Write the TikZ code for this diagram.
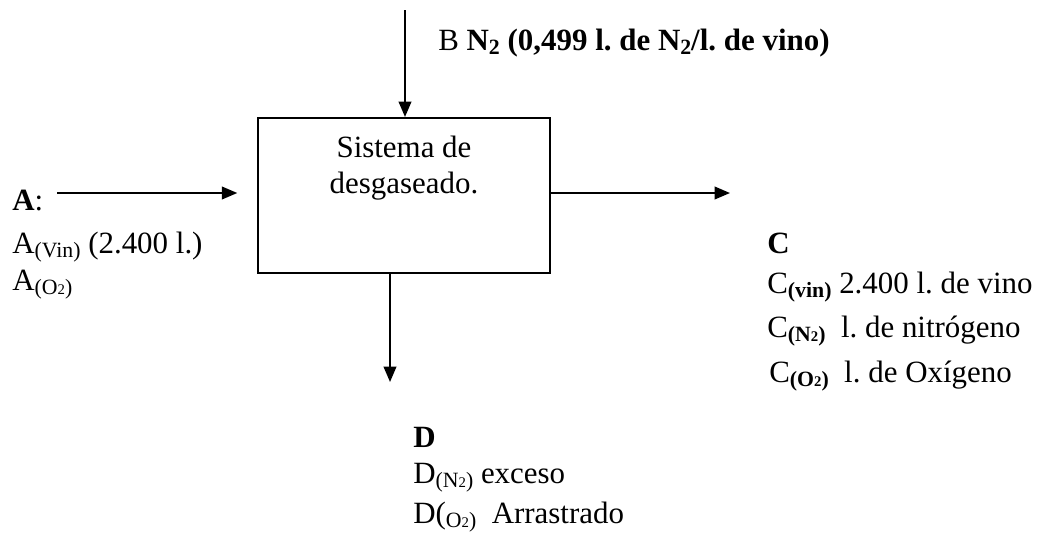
\documentclass[tikz,border=0pt]{standalone}
\usepackage{fontspec}
\setmainfont{Liberation Serif}
\usetikzlibrary{arrows.meta, positioning}

\newcommand{\subs}[1]{\raisebox{-3.4pt}{\fontsize{15.5}{15.5}\selectfont #1}}
\newcommand{\subsub}[1]{{\fontsize{10.5}{10.5}\selectfont #1}}

\tikzset{
  flow/.style={line width=1.4pt, -{Triangle[length=11pt,width=9pt]}},
  lbl/.style={anchor=base west, inner sep=0pt, font=\fontsize{22}{26}\selectfont},
}

\begin{document}
\frenchspacing
\begin{tikzpicture}[x=0.025cm, y=-0.025cm]
    \useasboundingbox (0,0) rectangle (1037,540);

    % Process box
    \node[draw, line width=1.4pt, minimum width=7.3cm, minimum height=3.875cm] (sys) at (404,195.5) {};
    \node[anchor=north, inner sep=0pt, align=center, font=\fontsize{22}{25.6}\selectfont,
          below=13pt of sys.north] (sysTxt) {Sistema de\\desgaseado.};

    % Flows in and out
    \coordinate (bIn) at (405,10);
    \coordinate (aIn) at (57,193);
    \coordinate (cOut) at (730,193);
    \coordinate (dOut) at (390,382);

    \draw[flow] (bIn) -- (bIn |- sys.north);
    \draw[flow, shorten >=14pt] (aIn) -- (aIn -| sys.west);
    \draw[flow] (sys.east |- cOut) -- (cOut);
    \draw[flow] (dOut |- sys.south) -- (dOut);

    % Stream B
    \node[lbl] (bTxt) at (438,50) {B \textbf{N\subs{2} (0,499 l. de N\subs{2}/l. de vino)}};

    % Stream A
    \node[lbl] (aHead) at (12,210) {\textbf{A}:};
    \node[lbl] (aVin) at (12,253) {A\subs{(Vin)} (2.400 l.)};
    \node[lbl] (aO2) at (12,290) {A\subs{(O\subsub{2})}};

    % Stream C
    \node[lbl] (cHead) at (767,253) {\textbf{C}};
    \node[lbl] (cVin) at (767,293) {C\subs{\textbf{(vin)}} 2.400 l. de vino};
    \node[lbl] (cN2) at (767,337) {C\subs{\textbf{(N\subsub{2})}}\ \ l. de nitrógeno};
    \node[lbl] (cO2) at (769,382) {C\subs{\textbf{(O\subsub{2})}}\ \ l. de Oxígeno};

    % Stream D
    \node[lbl] (dHead) at (413,447) {\textbf{D}};
    \node[lbl] (dN2) at (413,483) {D\subs{(N\subsub{2})} exceso};
    \node[lbl] (dO2) at (413,523) {D(\subs{O\subsub{2})}\ \ Arrastrado};

\end{tikzpicture}
\end{document}
